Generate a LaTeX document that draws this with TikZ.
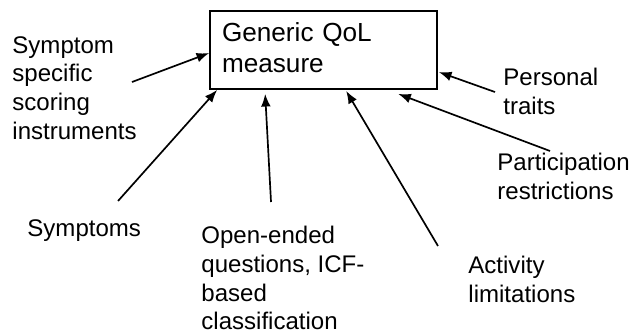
\documentclass[tikz,border=0pt]{standalone}
\usepackage{fontspec}
\setmainfont{Liberation Sans}
\usepackage{tikz}
\usetikzlibrary{arrows.meta, positioning, calc}

\begin{document}
\begin{tikzpicture}
\tikzstyle{label} = [anchor=north west, inner sep=0pt, align=left, font=\fontsize{11.4}{13.6}\selectfont]
\tikzstyle{measure} = [rectangle, draw=black, line width=0.8pt, minimum width=3.783cm, minimum height=1.3cm, text width=3.383cm, inner xsep=0.2cm, align=left, font=\fontsize{12.4}{14.7}\selectfont]
\tikzstyle{arrow} = [line width=0.8pt, -{Latex[length=6pt,width=4.6pt]}]

\useasboundingbox (0,0) rectangle (10.5,5.567);

% Outcome measure
\node[measure] (qol) at (5.392,4.733) {Generic QoL\\measure\rule[-2.8pt]{0pt}{2.8pt}};

% Sources
\node[label] (ssi) at (0.2,4.967) {Symptom\\specific\\scoring\\instruments};
\node[label] (sym) at (0.45,1.917) {Symptoms};
\node[label] (open) at (3.35,1.8) {Open-ended\\questions, ICF-\\based\\classification};
\node[label] (act) at (7.8,1.3) {Activity\\limitations};
\node[label] (part) at (8.283,3.017) {Participation\\restrictions};
\node[label] (pers) at (8.383,4.433) {Personal\\traits};

% Arrow tails
\coordinate (ssi-out) at (2.2,4.2);
\coordinate (sym-out) at (1.967,2.217);
\coordinate (open-out) at (4.517,2.2);
\coordinate (act-out) at (7.3,1.467);
\coordinate (part-out) at (9.167,3.05);
\coordinate (pers-out) at (8.25,4.033);

% Connections
\draw[arrow] (ssi-out) -- ($(qol.west)+(0,-0.05)$);
\draw[arrow] (sym-out) -- ($(qol.south west)+(0.133,0)$);
\draw[arrow] (open-out) -- ($(qol.south west)+(0.933,-0.067)$);
\draw[arrow] (act-out) -- ($(qol.south west)+(2.283,-0.017)$);
\draw[arrow] (part-out) -- ($(qol.south west)+(3.15,-0.067)$);
\draw[arrow] (pers-out) -- ($(qol.east)+(0.017,-0.367)$);
\end{tikzpicture}
\end{document}
